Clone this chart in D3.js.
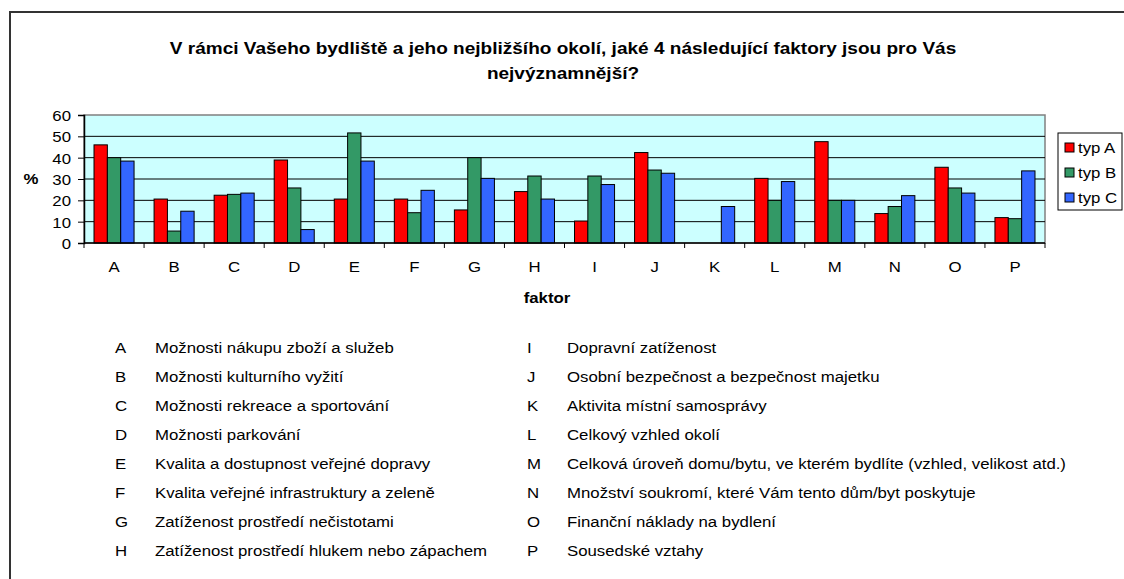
<!DOCTYPE html>
<html>
<head>
<meta charset="utf-8">
<script src="https://cdn.jsdelivr.net/npm/d3@7"></script>
<style>
  body { margin: 0; background: #fff; }
  svg { display: block; font-family: "Liberation Sans", Arial, sans-serif; }
</style>
</head>
<body>
<svg id="chart" width="1124" height="579"></svg>
<script>
// data
const categories = ["A","B","C","D","E","F","G","H","I","J","K","L","M","N","O","P"];
const series = ["typ A", "typ B", "typ C"];
const typA = [46, 20.6, 22.4, 38.9, 20.6, 20.6, 15.5, 24.1, 10.3, 42.4, 0, 30.3, 47.5, 13.8, 35.5, 11.9];
const typB = [40, 5.6, 22.8, 25.8, 51.6, 14.2, 40, 31.4, 31.4, 34.2, 0, 20, 20, 17.1, 25.8, 11.4];
const typC = [38.4, 14.9, 23.4, 6.3, 38.4, 24.7, 30.3, 20.6, 27.4, 32.7, 17.1, 28.8, 20, 22.2, 23.4, 33.8];
const yTicks = [0, 10, 20, 30, 40, 50, 60];
const descriptions = [
  "Možnosti nákupu zboží a služeb",
  "Možnosti kulturního vyžití",
  "Možnosti rekreace a sportování",
  "Možnosti parkování",
  "Kvalita a dostupnost veřejné dopravy",
  "Kvalita veřejné infrastruktury a zeleně",
  "Zatíženost prostředí nečistotami",
  "Zatíženost prostředí hlukem nebo zápachem",
  "Dopravní zatíženost",
  "Osobní bezpečnost a bezpečnost majetku",
  "Aktivita místní samosprávy",
  "Celkový vzhled okolí",
  "Celková úroveň domu/bytu, ve kterém bydlíte (vzhled, velikost atd.)",
  "Množství soukromí, které Vám tento dům/byt poskytuje",
  "Finanční náklady na bydlení",
  "Sousedské vztahy"
];
const colors = ["#FF0000", "#339966", "#3366FF"];

const values = [typA, typB, typC];

// the source picture is a little stretched horizontally
const SX = 1.12;
const place = (x, y) => "translate(" + x + "," + y + ") scale(" + SX + ",1)";

const svg = d3.select("#chart");

/* outer frame (left + top only visible) */
svg.append("path")
   .attr("d", "M10,579 V12 H1124")
   .attr("fill", "none")
   .attr("stroke", "#333")
   .attr("stroke-width", 2);

/* title */
svg.append("text")
   .attr("transform", place(563, 54))
   .attr("text-anchor", "middle")
   .attr("font-weight", "bold")
   .attr("font-size", 17)
   .text("V rámci Vašeho bydliště a jeho nejbližšího okolí, jaké 4 následující faktory jsou pro Vás");
svg.append("text")
   .attr("transform", place(563, 79))
   .attr("text-anchor", "middle")
   .attr("font-weight", "bold")
   .attr("font-size", 17)
   .text("nejvýznamnější?");

/* plot area */
const plotL = 84, plotR = 1045, plotT = 115, plotB = 243;

const x0 = d3.scaleBand()
   .domain(categories)
   .range([plotL, plotR])
   .paddingInner(0);

const x1 = d3.scaleBand()
   .domain(series)
   .range([0, x0.bandwidth()])
   .paddingOuter(0.75)
   .paddingInner(0);

const y = d3.scaleLinear()
   .domain([0, 60])
   .range([plotB, plotT]);

svg.append("rect")
   .attr("x", plotL).attr("y", plotT)
   .attr("width", plotR - plotL).attr("height", plotB - plotT)
   .attr("fill", "#CCFFFF")
   .attr("stroke", "#808080")
   .attr("stroke-width", 1.5);

// gridlines
svg.append("g")
   .selectAll("line")
   .data(yTicks.filter(t => t > 0 && t < 60))
   .enter()
   .append("line")
   .attr("x1", plotL).attr("x2", plotR)
   .attr("y1", d => y(d)).attr("y2", d => y(d))
   .attr("stroke", "#000")
   .attr("stroke-width", 1);

// bars
const groups = svg.append("g")
   .selectAll("g")
   .data(categories)
   .enter()
   .append("g")
   .attr("transform", d => "translate(" + x0(d) + ",0)");

groups.selectAll("rect")
   .data((d, i) => series.map((s, j) => ({ s: s, v: values[j][i], c: colors[j] })).filter(b => b.v > 0))
   .enter()
   .append("rect")
   .attr("x", d => x1(d.s))
   .attr("y", d => y(d.v))
   .attr("width", x1.bandwidth())
   .attr("height", d => y(0) - y(d.v))
   .attr("fill", d => d.c)
   .attr("stroke", "#000")
   .attr("stroke-width", 1);

/* y axis */
const yAxis = d3.axisLeft(y).tickValues(yTicks).tickSize(6).tickPadding(6);
const gy = svg.append("g")
   .attr("transform", "translate(" + plotL + ",0)")
   .call(yAxis);
gy.select(".domain").attr("stroke", "#000").attr("stroke-width", 1.5);
gy.selectAll(".tick line").attr("stroke", "#000");
gy.selectAll(".tick text")
   .attr("x", null).attr("dy", null)
   .attr("transform", place(-13, 5.5))
   .attr("font-size", 15)
   .attr("font-family", "Liberation Sans, Arial, sans-serif")
   .attr("fill", "#000");

/* x axis: ticks at category boundaries */
svg.append("line")
   .attr("x1", plotL).attr("x2", plotR)
   .attr("y1", plotB).attr("y2", plotB)
   .attr("stroke", "#000").attr("stroke-width", 1.5);

svg.append("g")
   .selectAll("line")
   .data(categories.concat(["end"]))
   .enter()
   .append("line")
   .attr("x1", (d, i) => plotL + i * x0.step())
   .attr("x2", (d, i) => plotL + i * x0.step())
   .attr("y1", plotB).attr("y2", plotB + 5)
   .attr("stroke", "#000");

svg.append("g")
   .selectAll("text")
   .data(categories)
   .enter()
   .append("text")
   .attr("transform", d => place(x0(d) + x0.bandwidth() / 2, 272))
   .attr("text-anchor", "middle")
   .attr("font-size", 15)
   .text(d => d);

/* axis titles */
svg.append("text")
   .attr("transform", place(31, 184))
   .attr("text-anchor", "middle")
   .attr("font-weight", "bold")
   .attr("font-size", 15)
   .text("%");

svg.append("text")
   .attr("transform", place(547, 303))
   .attr("text-anchor", "middle")
   .attr("font-weight", "bold")
   .attr("font-size", 15)
   .text("faktor");

/* legend */
const legend = svg.append("g");
legend.append("rect")
   .attr("x", 1058).attr("y", 133)
   .attr("width", 64).attr("height", 77)
   .attr("fill", "#fff")
   .attr("stroke", "#000")
   .attr("stroke-width", 1);

const li = legend.selectAll("g.item")
   .data(series)
   .enter()
   .append("g")
   .attr("class", "item")
   .attr("transform", (d, i) => "translate(1065," + (143 + i * 25) + ")");
li.append("rect")
   .attr("width", 9).attr("height", 9)
   .attr("fill", (d, i) => colors[i])
   .attr("stroke", "#000");
li.append("text")
   .attr("transform", place(13, 10))
   .attr("font-size", 15)
   .text(d => d);

/* description list */
const desc = svg.append("g")
   .selectAll("g")
   .data(categories)
   .enter()
   .append("g")
   .attr("transform", (d, i) => {
     const col = i < 8 ? 0 : 1;
     const row = i % 8;
     return "translate(" + (col ? 527 : 115) + "," + (353 + row * 29) + ")";
   });
desc.append("text")
   .attr("transform", place(0, 0))
   .attr("font-size", 15)
   .text(d => d);
desc.append("text")
   .attr("transform", place(40, 0))
   .attr("font-size", 15)
   .text((d, i) => descriptions[i]);
</script>
</body>
</html>
